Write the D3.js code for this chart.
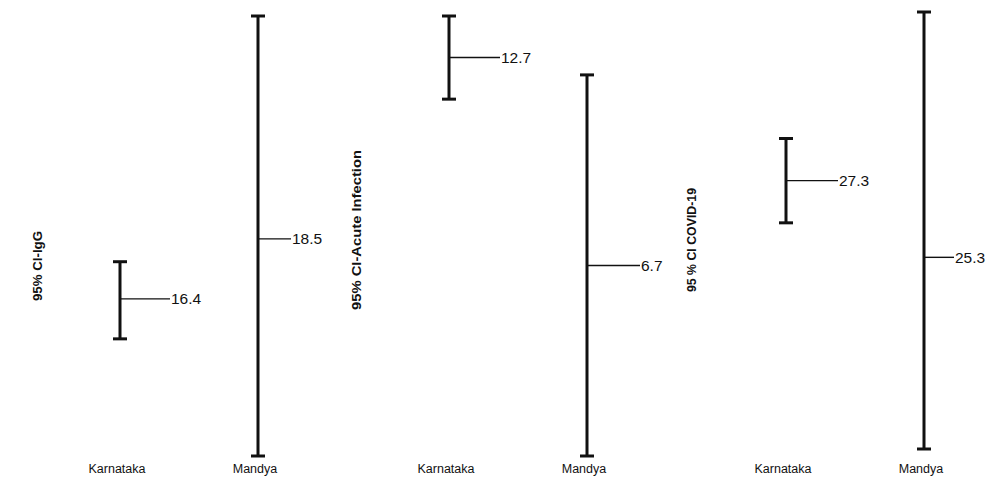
<!DOCTYPE html>
<html>
<head>
<meta charset="utf-8">
<script src="https://cdn.jsdelivr.net/npm/d3@7"></script>
<style>
body { margin:0; background:#fff; }
svg { display:block; font-family:"Liberation Sans", Arial, sans-serif; }
.catLabel { font-size:12.5px; fill:#111; }
.valLabel { font-size:15.5px; fill:#111; }
.yTitle { font-size:12.5px; font-weight:bold; fill:#111; }
</style>
</head>
<body>
<svg></svg>
<script>

//names of the places on each panel
var categories = ["Karnataka","Mandya"];

//titles of the three panels
var panelTitles = ["95% CI-IgG","95% CI-Acute Infection","95 % CI COVID-19"];

//point estimates, one array per panel
var estimates = [
    [16.4,18.5],
    [12.7,6.7],
    [27.3,25.3]
];

//lower ends of the 95% CI
var lowers = [
    [15.0,10.9],
    [11.5,1.2],
    [26.2,20.3]
];

//upper ends of the 95% CI
var uppers = [
    [17.7,26.3],
    [13.9,12.2],
    [28.4,31.7]
];

//where each panel sits on the page
var panels = [
    {left:120, titleX:37,  titleY:266, titleLen:70,  top:16, bottom:456, tick:[50,33]},
    {left:449, titleX:356, titleY:230, titleLen:160, top:16, bottom:456, tick:[51,53]},
    {left:786, titleX:691, titleY:240, titleLen:104, top:12, bottom:449, tick:[52,30]}
];

var drawPanel = function(svg,p)
{
    var layout = panels[p];

    var rows = categories.map(function(name,i)
    {
        return {name:name, est:estimates[p][i], lo:lowers[p][i], hi:uppers[p][i], tick:layout.tick[i]};
    });

    //each panel has its own x and y scale
    var xScale = d3.scalePoint()
        .domain(categories)
        .range([layout.left,layout.left+138]);

    var lo = d3.min(rows,function(r){return r.lo;});
    var hi = d3.max(rows,function(r){return r.hi;});
    var yScale = d3.scaleLinear()
        .domain([lo,hi])
        .range([layout.bottom,layout.top]);

    var g = svg.append("g").classed("panel",true);

    var bars = g.selectAll("g.bar")
        .data(rows)
        .enter()
        .append("g")
        .classed("bar",true);

    //vertical CI line
    bars.append("line")
        .attr("x1",function(r){return xScale(r.name);})
        .attr("x2",function(r){return xScale(r.name);})
        .attr("y1",function(r){return yScale(r.lo);})
        .attr("y2",function(r){return yScale(r.hi);})
        .attr("stroke","#111")
        .attr("stroke-width",3);

    //caps
    ["lo","hi"].forEach(function(k)
    {
        bars.append("line")
            .attr("x1",function(r){return xScale(r.name)-7;})
            .attr("x2",function(r){return xScale(r.name)+7;})
            .attr("y1",function(r){return yScale(r[k]);})
            .attr("y2",function(r){return yScale(r[k]);})
            .attr("stroke","#111")
            .attr("stroke-width",3);
    });

    //estimate line going right
    bars.append("line")
        .attr("x1",function(r){return xScale(r.name);})
        .attr("x2",function(r){return xScale(r.name)+r.tick;})
        .attr("y1",function(r){return yScale(r.est);})
        .attr("y2",function(r){return yScale(r.est);})
        .attr("stroke","#111")
        .attr("stroke-width",1.4);

    bars.append("text")
        .classed("valLabel",true)
        .text(function(r){return r.est;})
        .attr("x",function(r){return xScale(r.name)+r.tick+1;})
        .attr("y",function(r){return yScale(r.est)+5.5;});

    //place names under the bars
    bars.append("text")
        .classed("catLabel",true)
        .text(function(r){return r.name;})
        .attr("text-anchor","middle")
        .attr("x",function(r){return xScale(r.name)-3;})
        .attr("y",473);

    //rotated title
    g.append("text")
        .classed("yTitle",true)
        .text(panelTitles[p])
        .attr("text-anchor","middle")
        .attr("textLength",layout.titleLen)
        .attr("lengthAdjust","spacingAndGlyphs")
        .attr("transform","translate("+(layout.titleX+5)+","+layout.titleY+") rotate(-90)");
}

var initGraph = function()
{
    var svg = d3.select("svg")
        .attr("width",1005)
        .attr("height",495);

    panels.forEach(function(d,i)
    {
        drawPanel(svg,i);
    });
}

initGraph();
</script>
</body>
</html>
